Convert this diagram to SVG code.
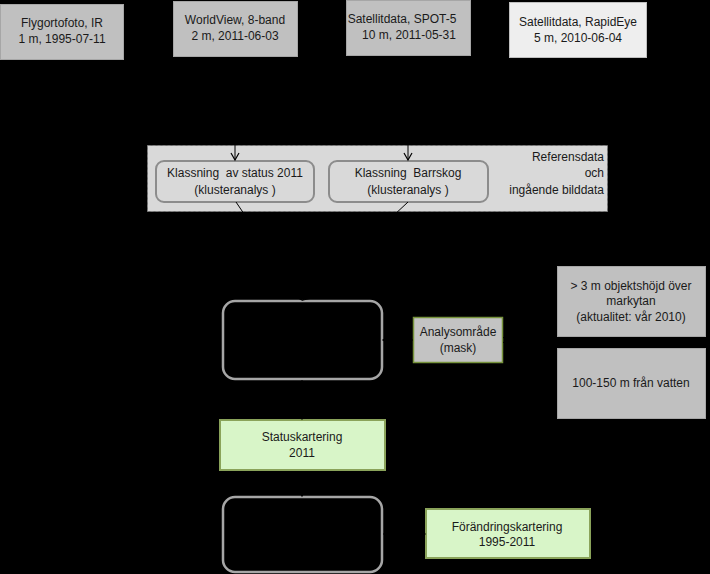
<svg xmlns="http://www.w3.org/2000/svg" width="710" height="574" viewBox="0 0 710 574">
<defs>
<style>
text{font-family:"Liberation Sans",Arial,sans-serif;font-size:12px;fill:#1a1a1a;text-anchor:middle}
.pre{white-space:pre}
.src{fill:#c0c0c0;stroke:#a6a6a6;stroke-width:1}
.lite{fill:#eeeeee;stroke:#bfbfbf;stroke-width:1}
.panel{fill:#d9d9d9;stroke:#7f7f7f;stroke-width:1;stroke-dasharray:3 2}
.klass{fill:#d9d9d9;stroke:#8c8c8c;stroke-width:2}
.proc{fill:none;stroke:#a6a6a6;stroke-width:2.5}
.green{fill:#d8f5c8;stroke:#8aa35a;stroke-width:2}
.mask{fill:#c3c3c3;stroke:#77933c;stroke-width:1.5}
.gray{fill:#c0c0c0;stroke:#a6a6a6;stroke-width:1}
.conn{fill:none;stroke:#000;stroke-width:1}
</style>
<marker id="arr" markerWidth="10" markerHeight="10" refX="8" refY="5" orient="auto" markerUnits="userSpaceOnUse">
<path d="M1,1 L8,5 L1,9" fill="none" stroke="#000" stroke-width="1.2"/>
</marker>
</defs>
<rect width="710" height="574" fill="#000"/>
<g id="panel">
<rect class="panel" x="147.5" y="145.5" width="460" height="66"/>
<text x="604" y="161" style="text-anchor:end">Referensdata</text>
<text x="604" y="177" style="text-anchor:end">och</text>
<text x="604" y="194" style="text-anchor:end">ingående bilddata</text>
</g>
<g id="flygortofoto">
<rect class="src" x="0.5" y="4.5" width="123" height="55"/>
<text x="62" y="27">Flygortofoto, IR</text>
<text x="62" y="43">1 m, 1995-07-11</text>
</g>
<g id="worldview">
<rect class="src" x="173.5" y="1.5" width="124" height="55"/>
<text x="235" y="24">WorldView, 8-band</text>
<text x="235" y="40">2 m, 2011-06-03</text>
</g>
<g id="spot5">
<rect class="src" x="346.5" y="0.5" width="124" height="55"/>
<text x="402" y="23">Satellitdata, SPOT-5</text>
<text x="409" y="39">10 m, 2011-05-31</text>
</g>
<g id="rapideye">
<rect class="lite" x="509.5" y="2.5" width="137" height="55"/>
<text x="578" y="26">Satellitdata, RapidEye</text>
<text x="578" y="42">5 m, 2010-06-04</text>
</g>
<g id="klass-status">
<rect class="klass" x="156" y="161" width="158" height="41" rx="8"/>
<text class="pre" x="235" y="177">Klassning  av status 2011</text>
<text x="235" y="194">(klusteranalys )</text>
</g>
<g id="klass-barrskog">
<rect class="klass" x="329" y="161" width="159" height="41" rx="8"/>
<text class="pre" x="408" y="177">Klassning  Barrskog</text>
<text x="408" y="194">(klusteranalys )</text>
</g>
<g id="process1">
<rect class="proc" x="223" y="301" width="159" height="78" rx="12"/>
</g>
<g id="analysomrade">
<rect class="mask" x="413.5" y="317.5" width="89" height="45"/>
<text x="458" y="336">Analysområde</text>
<text x="458" y="352">(mask)</text>
</g>
<g id="objektshojd">
<rect class="gray" x="557.5" y="266.5" width="148" height="70"/>
<text x="631" y="290">&gt; 3 m objektshöjd över</text>
<text x="631" y="305">markytan</text>
<text x="631" y="321">(aktualitet: vår 2010)</text>
</g>
<g id="vatten">
<rect class="gray" x="557.5" y="348.5" width="148" height="70"/>
<text x="631" y="387">100-150 m från vatten</text>
</g>
<g id="statuskartering">
<rect class="green" x="220" y="420" width="165" height="50"/>
<text x="302" y="441">Statuskartering</text>
<text x="302" y="457">2011</text>
</g>
<g id="process2">
<rect class="proc" x="223" y="497" width="159" height="75" rx="12"/>
</g>
<g id="forandring">
<rect class="green" x="426" y="509" width="164" height="49"/>
<text x="507" y="531">Förändringskartering</text>
<text x="507" y="546">1995-2011</text>
</g>
<g id="connectors">
<line class="conn" x1="235" y1="57" x2="235" y2="160" marker-end="url(#arr)"/>
<line class="conn" x1="408" y1="56" x2="408" y2="160" marker-end="url(#arr)"/>
<line class="conn" x1="236" y1="202" x2="302" y2="300" marker-end="url(#arr)"/>
<line class="conn" x1="408" y1="202" x2="303" y2="300" marker-end="url(#arr)"/>
<line class="conn" x1="302" y1="380" x2="302" y2="419" marker-end="url(#arr)"/>
<line class="conn" x1="302" y1="471" x2="302" y2="496" marker-end="url(#arr)"/>
<line class="conn" x1="557" y1="300" x2="503" y2="338"/>
<line class="conn" x1="557" y1="383" x2="503" y2="342"/>
<line class="conn" x1="413" y1="340" x2="383" y2="340" marker-end="url(#arr)"/>
<line class="conn" x1="383" y1="534" x2="425" y2="534" marker-end="url(#arr)"/>
</g>
</svg>
